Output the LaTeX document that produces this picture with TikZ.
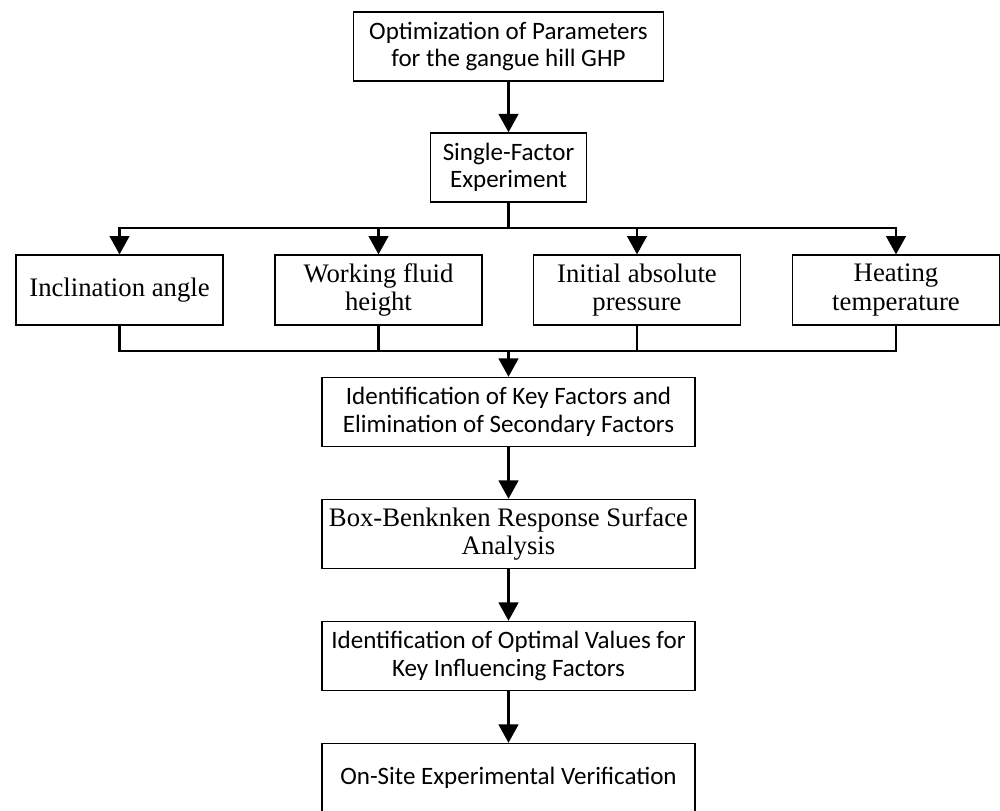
\documentclass[tikz,border=0pt]{standalone}
\usepackage{fontspec}
\setmainfont{Liberation Serif}
\setsansfont{Carlito}
\usetikzlibrary{arrows.meta}

\tikzset{
  box/.style={draw, line width=0.9pt, align=center, inner sep=2pt, minimum height=1.73cm},
  sansbox/.style={box, font=\sffamily\fontsize{17.8}{19.6}\selectfont},
  serifbox/.style={box, font=\rmfamily\fontsize{19}{20.2}\selectfont},
  factor/.style={serifbox, minimum width=5.175cm, minimum height=1.75cm},
  wide/.style={minimum width=9.325cm},
  link/.style={line width=1.5pt, line cap=rect},
}

\begin{document}
\begin{tikzpicture}[x=0.025cm, y=-0.025cm, >={Triangle[width=14pt,length=13pt]}]
  \useasboundingbox (0,0) rectangle (1000,810);
  % main column
  \node[sansbox, minimum width=7.75cm] (opt) at (508.5,46.5) {Optimization of Parameters\\for the gangue hill GHP};
  \node[sansbox, minimum width=3.9cm] (sfe) at (508.5,167.5) {Single-Factor\\Experiment};
  % factors
  \node[factor] (ang) at (119.5,290) {Inclination angle};
  \node[factor] (hgt) at (378.5,290) {Working fluid\\height};
  \node[factor] (prs) at (637,290) {Initial absolute\\pressure};
  \node[factor] (tmp) at (896,290) {Heating\\temperature};
  % lower steps
  \node[sansbox, wide] (key) at (508.5,412) {Identification of Key Factors and\\Elimination of Secondary Factors};
  \node[serifbox, wide] (bbd) at (508.5,534) {Box-Benknken Response Surface\\Analysis};
  \node[sansbox, wide] (optv) at (508.5,656) {Identification of Optimal Values for\\Key Influencing Factors};
  \node[sansbox, wide] (ver) at (508.5,778) {On-Site Experimental Verification};
  % connectors
  \coordinate (split) at (508.5,228);
  \coordinate (merge) at (508.5,351);
  \draw[link,->] (opt) -- (sfe);
  \draw[link] (sfe) -- (split);
  \draw[link] (ang.north |- split) -- (tmp.north |- split);
  \draw[link] (ang.south |- merge) -- (tmp.south |- merge);
  \foreach \f in {ang,hgt,prs,tmp} {
    \draw[link,->] (\f.north |- split) -- (\f);
    \draw[link] (\f) -- (\f.south |- merge);
  }
  \draw[link,->] (merge) -- (key);
  \draw[link,->] (key) -- (bbd);
  \draw[link,->] (bbd) -- (optv);
  \draw[link,->] (optv) -- (ver);
\end{tikzpicture}
\end{document}
